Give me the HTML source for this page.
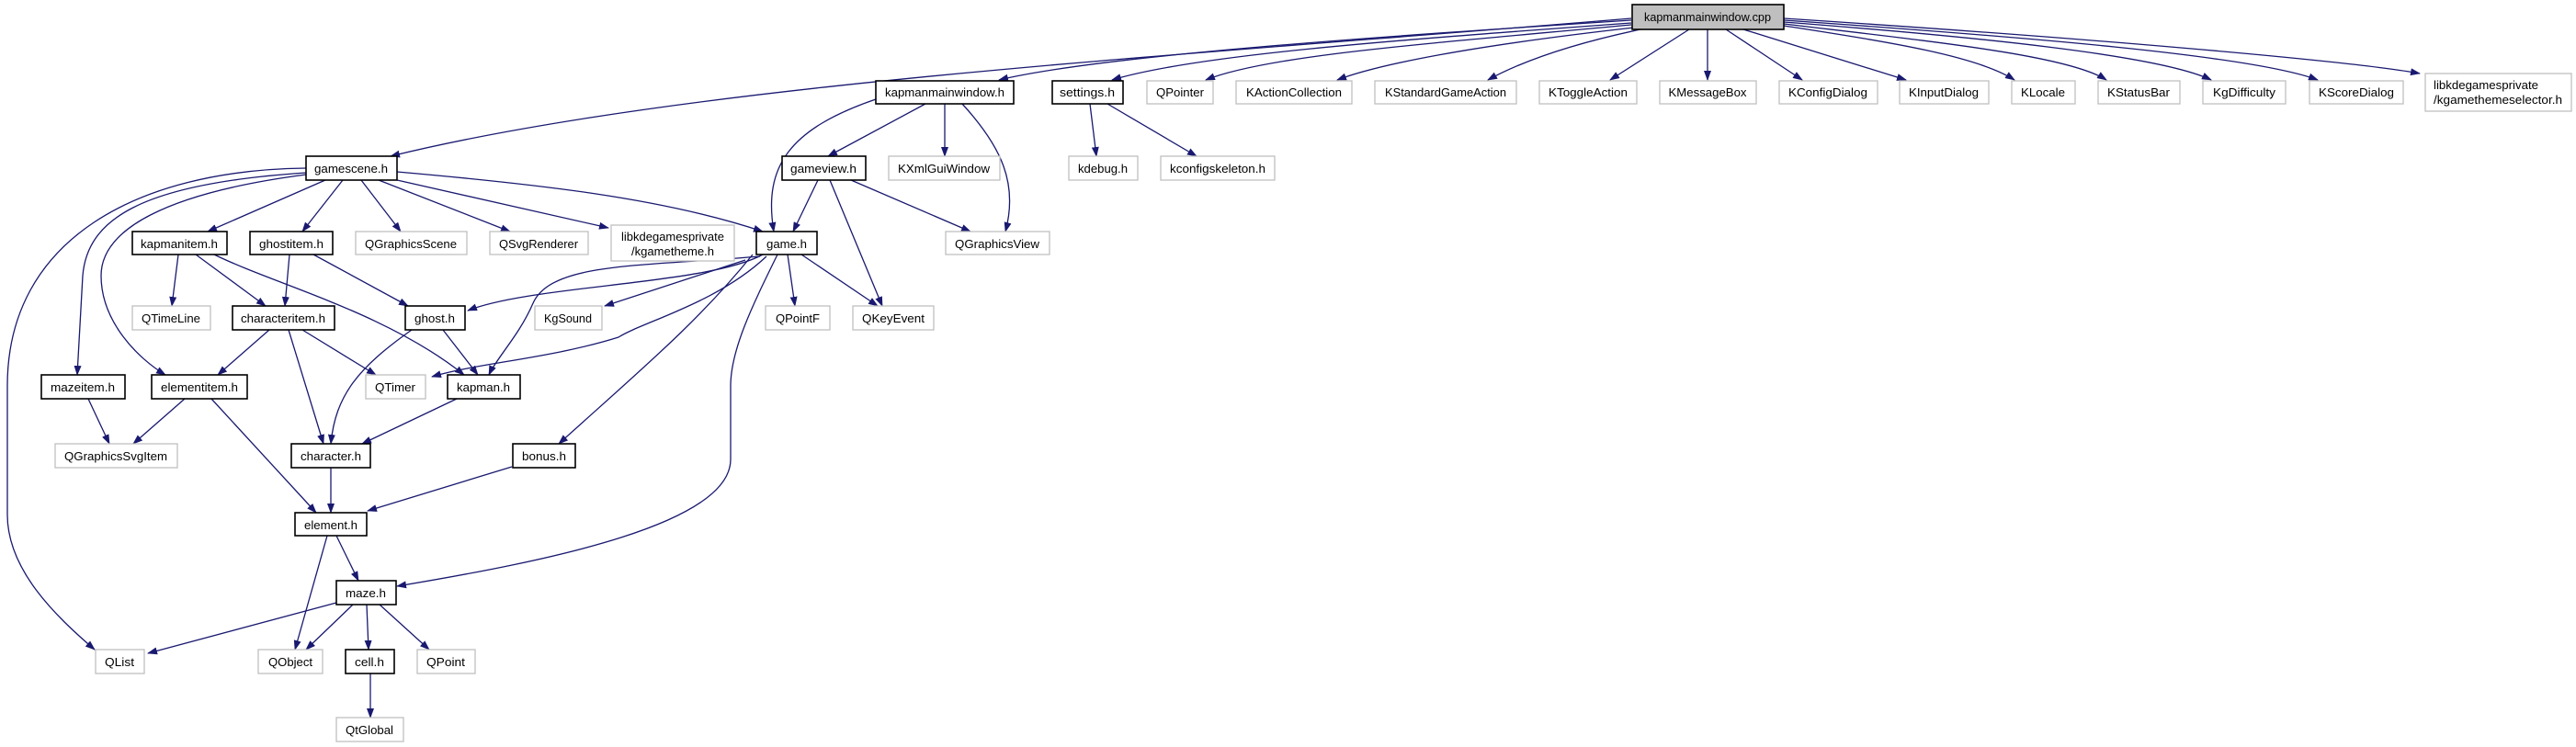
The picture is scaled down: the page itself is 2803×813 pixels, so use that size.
<!DOCTYPE html>
<html><head><meta charset="utf-8"><style>
html,body{margin:0;padding:0;background:#fff;width:2803px;height:813px;overflow:hidden}
svg text{font-family:"Liberation Sans",sans-serif;font-size:13px;fill:#000}
.b{fill:#fff;stroke:#000;stroke-width:1.6}
.g{fill:#fff;stroke:#bfbfbf;stroke-width:1.3}
.e{fill:none;stroke:#191970;stroke-width:1.3;marker-end:url(#a)}
</style></head><body>
<svg width="2803" height="813" viewBox="0 0 2803 813" xmlns="http://www.w3.org/2000/svg">
<defs><marker id="a" markerUnits="userSpaceOnUse" markerWidth="11" markerHeight="8" refX="10" refY="4" orient="auto"><path d="M0,0 L11,4 L0,8 z" fill="#191970"/></marker></defs>

<path class="e" d="M1775,20 C1300,60 750,90 425,170"/>
<path class="e" d="M1775,22 C1500,40 1200,60 1087,87"/>
<path class="e" d="M1775,25 C1500,45 1300,60 1210,87"/>
<path class="e" d="M1775,27 C1550,48 1380,60 1312,87"/>
<path class="e" d="M1778,30 C1600,50 1500,70 1455,87"/>
<path class="e" d="M1785,32 C1700,50 1650,70 1619,87"/>
<path class="e" d="M1838,32 L1752,87"/>
<path class="e" d="M1858,32 L1858,87"/>
<path class="e" d="M1878,32 L1961,87"/>
<path class="e" d="M1897,32 L2074,87"/>
<path class="e" d="M1941,28 C2050,45 2150,60 2192,87"/>
<path class="e" d="M1941,26 C2100,45 2250,60 2292,87"/>
<path class="e" d="M1941,24 C2150,40 2350,60 2406,87"/>
<path class="e" d="M1941,22 C2200,40 2450,60 2522,87"/>
<path class="e" d="M1941,20 C2250,40 2550,65 2633,80"/>

<path class="e" d="M953,108 C860,140 830,180 842,252"/>
<path class="e" d="M1007,113 L901,170"/>
<path class="e" d="M1028,113 L1028,170"/>
<path class="e" d="M1047,113 C1090,160 1108,200 1094,252"/>
<path class="e" d="M1186,113 L1193,170"/>
<path class="e" d="M1205,113 L1302,170"/>

<path class="e" d="M890,196 L863,252"/>
<path class="e" d="M903,196 L960,333"/>
<path class="e" d="M926,196 L1056,252"/>

<path class="e" d="M333,183 C150,185 8,260 8,420 L8,560 C8,620 60,670 103,707"/>
<path class="e" d="M333,188 C150,200 95,240 90,300 L84,408"/>
<path class="e" d="M333,190 C180,210 110,250 110,300 C110,350 150,390 180,408"/>
<path class="e" d="M354,196 L226,252"/>
<path class="e" d="M373,196 L329,252"/>
<path class="e" d="M393,196 L436,252"/>
<path class="e" d="M412,196 L555,252"/>
<path class="e" d="M432,196 L662,248"/>
<path class="e" d="M432,187 C580,200 720,215 830,252"/>

<path class="e" d="M194,277 L187,333"/>
<path class="e" d="M213,277 L289,333"/>
<path class="e" d="M233,277 C300,310 420,340 505,408"/>
<path class="e" d="M315,277 L310,333"/>
<path class="e" d="M341,277 L444,333"/>

<path class="e" d="M830,277 C770,310 580,310 509,338"/>
<path class="e" d="M827,279 C700,290 600,285 580,330 C565,365 540,390 532,408"/>
<path class="e" d="M834,279 C780,330 700,350 673,367 C600,390 520,395 470,410"/>
<path class="e" d="M811,283 L658,333"/>
<path class="e" d="M819,277 C760,350 700,400 608,483"/>
<path class="e" d="M846,277 C820,330 795,380 795,420 L795,500 C795,570 600,610 432,638"/>
<path class="e" d="M857,277 L865,333"/>
<path class="e" d="M872,277 L955,333"/>

<path class="e" d="M293,359 L237,408"/>
<path class="e" d="M314,359 L352,483"/>
<path class="e" d="M329,359 L409,408"/>
<path class="e" d="M448,359 C390,400 365,430 360,483"/>
<path class="e" d="M482,359 L520,408"/>

<path class="e" d="M96,434 L119,483"/>
<path class="e" d="M201,434 L145,483"/>
<path class="e" d="M230,434 L344,558"/>
<path class="e" d="M497,434 L394,483"/>
<path class="e" d="M360,509 L360,558"/>
<path class="e" d="M557,508 L400,556"/>
<path class="e" d="M366,583 L390,632"/>
<path class="e" d="M356,583 L321,707"/>
<path class="e" d="M366,656 L161,711"/>
<path class="e" d="M384,658 L333,707"/>
<path class="e" d="M399,658 L401,707"/>
<path class="e" d="M413,658 L467,707"/>
<path class="e" d="M403,733 L403,781"/>

<rect x="1776" y="5" width="165" height="27" fill="#bfbfbf" stroke="#000" stroke-width="1.6"/>
<text x="1858" y="23" text-anchor="middle" textLength="138" lengthAdjust="spacingAndGlyphs">kapmanmainwindow.cpp</text>

<rect class="b" x="953" y="88" width="150" height="25"/><text x="1028" y="105" text-anchor="middle" textLength="130" lengthAdjust="spacingAndGlyphs">kapmanmainwindow.h</text>
<rect class="b" x="1145" y="88" width="77" height="25"/><text x="1183" y="105" text-anchor="middle" textLength="60" lengthAdjust="spacingAndGlyphs">settings.h</text>
<rect class="g" x="1248" y="88" width="72" height="25"/><text x="1284" y="105" text-anchor="middle" textLength="52" lengthAdjust="spacingAndGlyphs">QPointer</text>
<rect class="g" x="1345" y="88" width="126" height="25"/><text x="1408" y="105" text-anchor="middle" textLength="104" lengthAdjust="spacingAndGlyphs">KActionCollection</text>
<rect class="g" x="1496" y="88" width="154" height="25"/><text x="1573" y="105" text-anchor="middle" textLength="132" lengthAdjust="spacingAndGlyphs">KStandardGameAction</text>
<rect class="g" x="1675" y="88" width="106" height="25"/><text x="1728" y="105" text-anchor="middle" textLength="86" lengthAdjust="spacingAndGlyphs">KToggleAction</text>
<rect class="g" x="1806" y="88" width="105" height="25"/><text x="1858" y="105" text-anchor="middle" textLength="85" lengthAdjust="spacingAndGlyphs">KMessageBox</text>
<rect class="g" x="1936" y="88" width="107" height="25"/><text x="1989" y="105" text-anchor="middle" textLength="86" lengthAdjust="spacingAndGlyphs">KConfigDialog</text>
<rect class="g" x="2067" y="88" width="97" height="25"/><text x="2115" y="105" text-anchor="middle" textLength="76" lengthAdjust="spacingAndGlyphs">KInputDialog</text>
<rect class="g" x="2189" y="88" width="69" height="25"/><text x="2223" y="105" text-anchor="middle" textLength="48" lengthAdjust="spacingAndGlyphs">KLocale</text>
<rect class="g" x="2283" y="88" width="89" height="25"/><text x="2327" y="105" text-anchor="middle" textLength="68" lengthAdjust="spacingAndGlyphs">KStatusBar</text>
<rect class="g" x="2397" y="88" width="90" height="25"/><text x="2442" y="105" text-anchor="middle" textLength="68" lengthAdjust="spacingAndGlyphs">KgDifficulty</text>
<rect class="g" x="2513" y="88" width="102" height="25"/><text x="2564" y="105" text-anchor="middle" textLength="82" lengthAdjust="spacingAndGlyphs">KScoreDialog</text>
<rect class="g" x="2639" y="80" width="159" height="41"/><text x="2648" y="97" textLength="114" lengthAdjust="spacingAndGlyphs">libkdegamesprivate</text><text x="2648" y="113" textLength="140" lengthAdjust="spacingAndGlyphs">/kgamethemeselector.h</text>

<rect class="b" x="333" y="170" width="99" height="26"/><text x="382" y="188" text-anchor="middle" textLength="80" lengthAdjust="spacingAndGlyphs">gamescene.h</text>
<rect class="b" x="851" y="170" width="91" height="26"/><text x="896" y="188" text-anchor="middle" textLength="72" lengthAdjust="spacingAndGlyphs">gameview.h</text>
<rect class="g" x="967" y="170" width="121" height="26"/><text x="1027" y="188" text-anchor="middle" textLength="100" lengthAdjust="spacingAndGlyphs">KXmlGuiWindow</text>
<rect class="g" x="1163" y="170" width="75" height="26"/><text x="1200" y="188" text-anchor="middle" textLength="54" lengthAdjust="spacingAndGlyphs">kdebug.h</text>
<rect class="g" x="1263" y="170" width="124" height="26"/><text x="1325" y="188" text-anchor="middle" textLength="104" lengthAdjust="spacingAndGlyphs">kconfigskeleton.h</text>

<rect class="b" x="144" y="252" width="103" height="25"/><text x="195" y="270" text-anchor="middle" textLength="84" lengthAdjust="spacingAndGlyphs">kapmanitem.h</text>
<rect class="b" x="272" y="252" width="90" height="25"/><text x="317" y="270" text-anchor="middle" textLength="70" lengthAdjust="spacingAndGlyphs">ghostitem.h</text>
<rect class="g" x="387" y="252" width="121" height="25"/><text x="447" y="270" text-anchor="middle" textLength="100" lengthAdjust="spacingAndGlyphs">QGraphicsScene</text>
<rect class="g" x="533" y="252" width="107" height="25"/><text x="586" y="270" text-anchor="middle" textLength="86" lengthAdjust="spacingAndGlyphs">QSvgRenderer</text>
<rect class="g" x="665" y="245" width="134" height="39"/><text x="732" y="262" text-anchor="middle" textLength="112" lengthAdjust="spacingAndGlyphs">libkdegamesprivate</text><text x="732" y="278" text-anchor="middle" textLength="90" lengthAdjust="spacingAndGlyphs">/kgametheme.h</text>
<rect class="b" x="823" y="252" width="66" height="25"/><text x="856" y="270" text-anchor="middle" textLength="44" lengthAdjust="spacingAndGlyphs">game.h</text>
<rect class="g" x="1029" y="252" width="113" height="25"/><text x="1085" y="270" text-anchor="middle" textLength="92" lengthAdjust="spacingAndGlyphs">QGraphicsView</text>

<rect class="g" x="144" y="333" width="85" height="26"/><text x="186" y="351" text-anchor="middle" textLength="64" lengthAdjust="spacingAndGlyphs">QTimeLine</text>
<rect class="b" x="253" y="333" width="111" height="26"/><text x="308" y="351" text-anchor="middle" textLength="92" lengthAdjust="spacingAndGlyphs">characteritem.h</text>
<rect class="b" x="441" y="333" width="65" height="26"/><text x="473" y="351" text-anchor="middle" textLength="44" lengthAdjust="spacingAndGlyphs">ghost.h</text>
<rect class="g" x="582" y="333" width="73" height="26"/><text x="618" y="351" text-anchor="middle" textLength="52" lengthAdjust="spacingAndGlyphs">KgSound</text>
<rect class="g" x="833" y="333" width="70" height="26"/><text x="868" y="351" text-anchor="middle" textLength="48" lengthAdjust="spacingAndGlyphs">QPointF</text>
<rect class="g" x="928" y="333" width="88" height="26"/><text x="972" y="351" text-anchor="middle" textLength="68" lengthAdjust="spacingAndGlyphs">QKeyEvent</text>

<rect class="b" x="45" y="408" width="91" height="26"/><text x="90" y="426" text-anchor="middle" textLength="70" lengthAdjust="spacingAndGlyphs">mazeitem.h</text>
<rect class="b" x="165" y="408" width="104" height="26"/><text x="217" y="426" text-anchor="middle" textLength="84" lengthAdjust="spacingAndGlyphs">elementitem.h</text>
<rect class="g" x="398" y="408" width="65" height="26"/><text x="430" y="426" text-anchor="middle" textLength="44" lengthAdjust="spacingAndGlyphs">QTimer</text>
<rect class="b" x="487" y="408" width="79" height="26"/><text x="526" y="426" text-anchor="middle" textLength="58" lengthAdjust="spacingAndGlyphs">kapman.h</text>

<rect class="g" x="60" y="483" width="133" height="26"/><text x="126" y="501" text-anchor="middle" textLength="112" lengthAdjust="spacingAndGlyphs">QGraphicsSvgItem</text>
<rect class="b" x="317" y="483" width="86" height="26"/><text x="360" y="501" text-anchor="middle" textLength="66" lengthAdjust="spacingAndGlyphs">character.h</text>
<rect class="b" x="558" y="483" width="68" height="26"/><text x="592" y="501" text-anchor="middle" textLength="48" lengthAdjust="spacingAndGlyphs">bonus.h</text>

<rect class="b" x="321" y="558" width="78" height="25"/><text x="360" y="576" text-anchor="middle" textLength="58" lengthAdjust="spacingAndGlyphs">element.h</text>
<rect class="b" x="366" y="632" width="65" height="26"/><text x="398" y="650" text-anchor="middle" textLength="44" lengthAdjust="spacingAndGlyphs">maze.h</text>

<rect class="g" x="104" y="707" width="53" height="26"/><text x="130" y="725" text-anchor="middle" textLength="32" lengthAdjust="spacingAndGlyphs">QList</text>
<rect class="g" x="281" y="707" width="70" height="26"/><text x="316" y="725" text-anchor="middle" textLength="48" lengthAdjust="spacingAndGlyphs">QObject</text>
<rect class="b" x="376" y="707" width="53" height="26"/><text x="402" y="725" text-anchor="middle" textLength="32" lengthAdjust="spacingAndGlyphs">cell.h</text>
<rect class="g" x="454" y="707" width="63" height="26"/><text x="485" y="725" text-anchor="middle" textLength="42" lengthAdjust="spacingAndGlyphs">QPoint</text>

<rect class="g" x="366" y="781" width="73" height="26"/><text x="402" y="799" text-anchor="middle" textLength="52" lengthAdjust="spacingAndGlyphs">QtGlobal</text>
</svg>
</body></html>
